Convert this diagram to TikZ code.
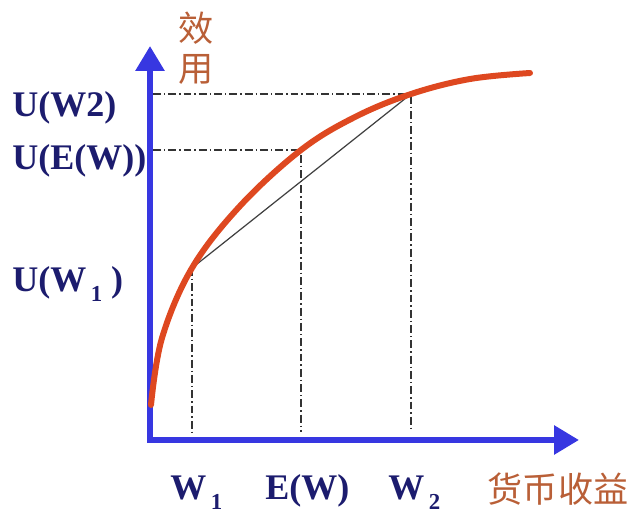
\documentclass[tikz,border=0pt]{standalone}
\usepackage{fontspec}
\setmainfont{Liberation Serif}
\newfontfamily\cjk{Noto Sans CJK SC}
\usetikzlibrary{arrows.meta}
\definecolor{axisblue}{RGB}{55,55,225}
\definecolor{curvered}{RGB}{222,72,32}
\definecolor{labelnavy}{RGB}{28,28,110}
\definecolor{cjkbrown}{RGB}{185,95,55}
\newcommand{\lowidx}[1]{\hspace{2.5pt}\raisebox{-5.5pt}{\fontsize{13}{13}\selectfont #1}}
\tikzset{
  axis/.style={line width=0.12cm, axisblue,
    {Triangle[length=0.5cm,width=0.56cm]}-{Triangle[length=0.5cm,width=0.56cm]}},
  utility/.style={line width=0.12cm, curvered, line cap=round},
  guide/.style={line width=0.6pt, black!80, dash pattern=on 4.5pt off 1.7pt on 0.8pt off 1.7pt},
  chord/.style={line width=0.7pt, black!75},
  val/.style={inner sep=0pt, text=labelnavy, font=\fontsize{20.5}{24}\selectfont\bfseries},
  zh/.style={inner sep=0pt, text=cjkbrown, font=\cjk\fontsize{20}{22.7}\selectfont, align=center}
}
\begin{document}
\begin{tikzpicture}[x=0.02cm,y=-0.02cm]
  \useasboundingbox (0,0) rectangle (640,520);
  % axes
  \coordinate (ytop) at (150,46);
  \coordinate (xend) at (579,440);
  \draw[axis] (ytop) |- (xend);
  % points on the curve
  \coordinate (p1) at (192,268);
  \coordinate (pe) at (301,150);
  \coordinate (p2) at (411,94);
  \coordinate (pe0) at (301,432);
  \coordinate (p10) at (192,432);
  \coordinate (p20) at (411,432);
  \coordinate (ye) at (153,150);
  \coordinate (y2) at (153,94);
  \draw[guide] (ye) -- (pe) -- (pe0);
  \draw[guide] (y2) -- (p2) -- (p20);
  \draw[guide] (p1) -- (p10);
  \draw[chord] (p1) -- (p2);
  \draw[utility] plot[smooth, tension=0.6] coordinates {(151,405) (162,338) (p1) (240,206) (pe) (355,117) (p2) (470,79) (530,73)};
  % labels
  \node[val, anchor=base west] (uw2) at (12,117) {U(W2)};
  \node[val, anchor=base west] (uew) at (12,170) {U(E(W))};
  \node[val, anchor=base west] (uw1) at (12,292) {U(W\lowidx{1} )};
  \node[val, anchor=base west] (w1) at (170,500) {W\lowidx{1}};
  \node[val, anchor=base west] (ew) at (265,500) {E(W)};
  \node[val, anchor=base west] (w2) at (388,500) {W\lowidx{2}};
  \node[zh] (yname) at (196,48) {效\\用};
  \node[zh] (xname) at (558,489) {货币收益};
\end{tikzpicture}
\end{document}
